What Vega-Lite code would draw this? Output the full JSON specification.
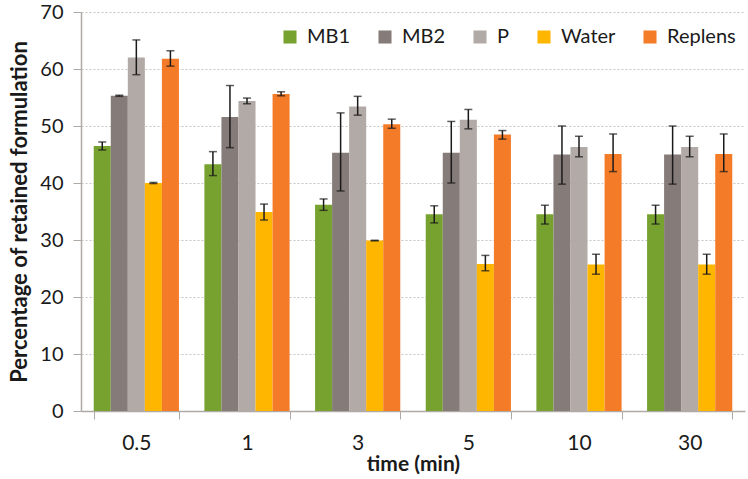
{
  "$schema": "https://vega.github.io/schema/vega-lite/v6.json",
  "width": 664,
  "height": 399,
  "autosize": {"type": "none"},
  "padding": {"left": 81, "top": 12, "right": 3, "bottom": 68},
  "background": "white",
  "config": {
    "font": "Lato",
    "view": {"stroke": null},
    "axis": {"labelFont": "Lato", "titleFont": "Lato"}
  },
  "data": {
    "values": [
      {"time": "0.5", "form": "MB1", "mean": 46.5, "lo": 45.8, "hi": 47.2},
      {"time": "0.5", "form": "MB2", "mean": 55.3, "lo": 55.2, "hi": 55.4},
      {"time": "0.5", "form": "P", "mean": 62.0, "lo": 59.0, "hi": 65.1},
      {"time": "0.5", "form": "Water", "mean": 40.0, "lo": 39.9, "hi": 40.1},
      {"time": "0.5", "form": "Replens", "mean": 61.8, "lo": 60.5, "hi": 63.2},
      {"time": "1", "form": "MB1", "mean": 43.3, "lo": 41.3, "hi": 45.5},
      {"time": "1", "form": "MB2", "mean": 51.6, "lo": 46.2, "hi": 57.1},
      {"time": "1", "form": "P", "mean": 54.4, "lo": 53.9, "hi": 54.9},
      {"time": "1", "form": "Water", "mean": 34.9, "lo": 33.5, "hi": 36.3},
      {"time": "1", "form": "Replens", "mean": 55.6, "lo": 55.3, "hi": 56.0},
      {"time": "3", "form": "MB1", "mean": 36.2, "lo": 35.2, "hi": 37.2},
      {"time": "3", "form": "MB2", "mean": 45.3, "lo": 38.6, "hi": 52.3},
      {"time": "3", "form": "P", "mean": 53.4, "lo": 51.9, "hi": 55.2},
      {"time": "3", "form": "Water", "mean": 29.9, "lo": 29.85, "hi": 29.95},
      {"time": "3", "form": "Replens", "mean": 50.3, "lo": 49.6, "hi": 51.2},
      {"time": "5", "form": "MB1", "mean": 34.5, "lo": 33.0, "hi": 36.0},
      {"time": "5", "form": "MB2", "mean": 45.3, "lo": 40.0, "hi": 50.8},
      {"time": "5", "form": "P", "mean": 51.1, "lo": 49.5, "hi": 52.9},
      {"time": "5", "form": "Water", "mean": 25.8, "lo": 24.6, "hi": 27.3},
      {"time": "5", "form": "Replens", "mean": 48.5, "lo": 47.7, "hi": 49.2},
      {"time": "10", "form": "MB1", "mean": 34.5, "lo": 32.8, "hi": 36.1},
      {"time": "10", "form": "MB2", "mean": 45.0, "lo": 39.8, "hi": 50.0},
      {"time": "10", "form": "P", "mean": 46.3, "lo": 44.6, "hi": 48.2},
      {"time": "10", "form": "Water", "mean": 25.7, "lo": 24.0, "hi": 27.5},
      {"time": "10", "form": "Replens", "mean": 45.1, "lo": 42.0, "hi": 48.6},
      {"time": "30", "form": "MB1", "mean": 34.5, "lo": 32.8, "hi": 36.1},
      {"time": "30", "form": "MB2", "mean": 45.0, "lo": 39.8, "hi": 50.0},
      {"time": "30", "form": "P", "mean": 46.3, "lo": 44.6, "hi": 48.2},
      {"time": "30", "form": "Water", "mean": 25.7, "lo": 24.0, "hi": 27.5},
      {"time": "30", "form": "Replens", "mean": 45.1, "lo": 42.0, "hi": 48.6}
    ]
  },
  "encoding": {
    "x": {
      "field": "time",
      "type": "nominal",
      "sort": ["0.5", "1", "3", "5", "10", "30"],
      "scale": {"paddingInner": 0.23, "paddingOuter": 0.115},
      "axis": {
        "title": "time (min)",
        "titleFontSize": 21,
        "titleFontWeight": "bold",
        "titleColor": "#1a1a1a",
        "titlePadding": 0,
        "labelAngle": 0,
        "labelFontSize": 21,
        "labelColor": "#1a1a1a",
        "labelPadding": 13,
        "tickBand": "extent",
        "tickSize": 8,
        "tickColor": "#b0aaa6",
        "domainColor": "#b0aaa6",
        "domainWidth": 1.5,
        "grid": false
      }
    },
    "xOffset": {
      "field": "form",
      "type": "nominal",
      "sort": ["MB1", "MB2", "P", "Water", "Replens"],
      "scale": {"paddingInner": 0, "paddingOuter": 0}
    }
  },
  "layer": [
    {
      "mark": {"type": "bar"},
      "encoding": {
        "y": {
          "field": "mean",
          "type": "quantitative",
          "scale": {"domain": [0, 70]},
          "axis": {
            "title": "Percentage of retained formulation",
            "titleFontSize": 22,
            "titleFontWeight": "bold",
            "titleColor": "#1a1a1a",
            "titlePadding": 8,
            "labelFontSize": 20,
            "labelColor": "#1a1a1a",
            "labelPadding": 10,
            "values": [0, 10, 20, 30, 40, 50, 60, 70],
            "tickSize": 8,
            "tickColor": "#b0aaa6",
            "domainColor": "#b0aaa6",
            "domainWidth": 1.5,
            "gridColor": "#c8c4c0",
            "gridDash": [2, 2],
            "gridWidth": 1
          }
        },
        "color": {
          "field": "form",
          "type": "nominal",
          "sort": ["MB1", "MB2", "P", "Water", "Replens"],
          "scale": {
            "domain": ["MB1", "MB2", "P", "Water", "Replens"],
            "range": ["#77a22f", "#857b78", "#b2aaa6", "#ffb600", "#f47b28"]
          },
          "legend": {
            "title": null,
            "orient": "none",
            "legendX": 199,
            "legendY": 15,
            "direction": "horizontal",
            "columns": 5,
            "columnPadding": 24,
            "symbolType": "square",
            "symbolSize": 170,
            "symbolStrokeWidth": 0,
            "labelFontSize": 20,
            "labelColor": "#1a1a1a",
            "labelOffset": 7
          }
        }
      }
    },
    {
      "mark": {"type": "rule", "color": "#1a1a1a", "strokeWidth": 1.5},
      "encoding": {
        "y": {"field": "lo", "type": "quantitative"},
        "y2": {"field": "hi"}
      }
    },
    {
      "mark": {"type": "tick", "color": "#1a1a1a", "thickness": 1.5, "size": 8},
      "encoding": {"y": {"field": "lo", "type": "quantitative"}}
    },
    {
      "mark": {"type": "tick", "color": "#1a1a1a", "thickness": 1.5, "size": 8},
      "encoding": {"y": {"field": "hi", "type": "quantitative"}}
    }
  ]
}
